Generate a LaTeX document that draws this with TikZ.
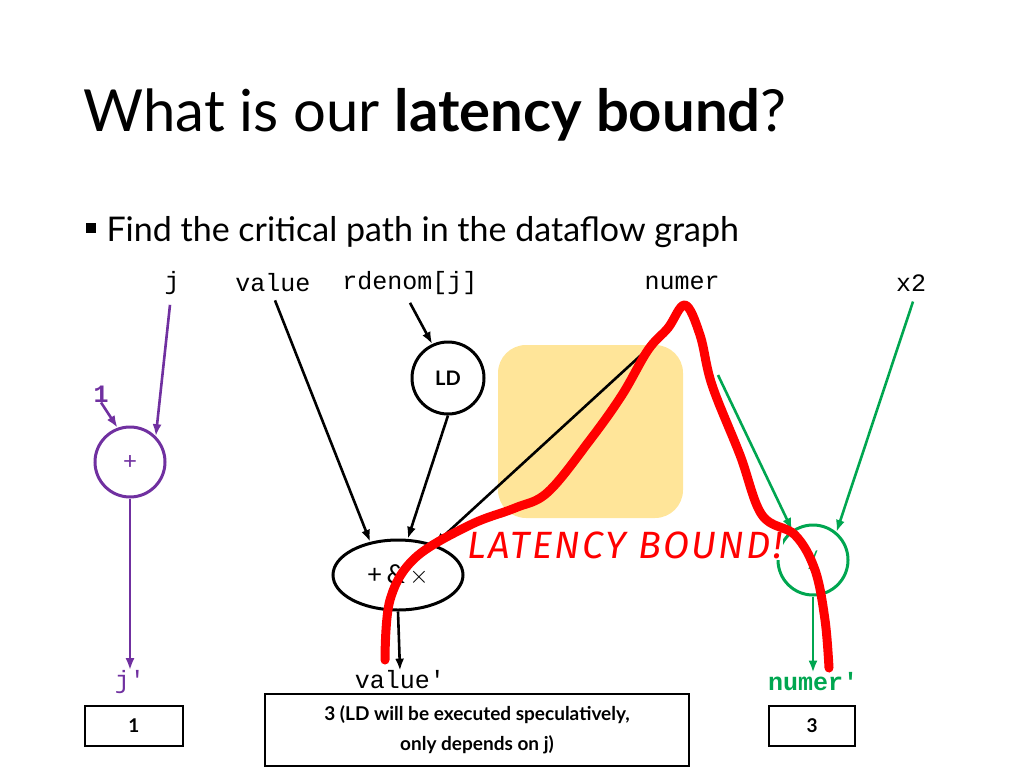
\documentclass[tikz,border=0pt]{standalone}
\usepackage{fontspec}
\setmainfont{Lato}
\setmonofont{Liberation Mono}
\newfontfamily\comic[LetterSpace=6]{Fira Sans}
\usetikzlibrary{arrows.meta,shapes.geometric}
\definecolor{purp}{RGB}{112,48,160}
\definecolor{grn}{RGB}{0,166,80}
\definecolor{yel}{RGB}{255,229,153}
\tikzset{x=1pt,y=-1pt,
 lab/.style={font=\ttfamily\fontsize{25}{28}\selectfont,inner sep=0},
 op/.style={circle,draw,line width=3pt,minimum size=70pt,inner sep=0},
 arr/.style={-{Latex[length=12pt,width=9pt]},line width=2.6pt},
 vbox/.style={draw,line width=1.5pt,font=\bfseries\fontsize{19}{30}\selectfont,align=center}}
\begin{document}
\begin{tikzpicture}
\useasboundingbox (0,0) rectangle (1024,768);
\node[anchor=west,font=\fontsize{58}{64}\selectfont] (t) at (80,115) {What is our \textbf{latency bound}?};
\node[fill=black,minimum size=10pt,inner sep=0] (b) at (91,228) {};
\node[anchor=west,font=\fontsize{34}{40}\selectfont] (f) at (103,232) {Find the critical path in the dataflow graph};
\node[lab] (j) at (172,283) {j};
\node[lab] (val) at (273,283) {value};
\node[lab] (rd) at (410,283) {rdenom[j]};
\node[lab] (num) at (682,283) {numer};
\node[lab] (x2) at (911,283) {x2};
\node[lab,text=purp,font=\ttfamily\bfseries\fontsize{25}{28}\selectfont] (one) at (101,394) {1};
\fill[yel,rounded corners=28pt] (498,345) rectangle (683,518);
\node[op,draw=purp,text=purp,font=\fontsize{24}{28}\selectfont] (p) at (130,462) {+};
\node[op,minimum size=72pt,font=\bfseries\fontsize{20}{24}\selectfont] (ld) at (448,378) {LD};
\node[ellipse,draw,line width=3pt,minimum width=130pt,minimum height=70pt,font=\fontsize{26}{28}\selectfont] (e) at (398,575) {+\,\&\,$\times$};
\node[op,draw=grn,text=grn,font=\fontsize{24}{28}\selectfont] (g) at (813,560) {/};
\node[lab,text=purp] (jp) at (130,682) {j'};
\node[lab] (vp) at (400,680) {value'};
\node[lab,text=grn,font=\ttfamily\bfseries\fontsize{25}{28}\selectfont] (np) at (813,682) {numer'};
\node[vbox,minimum width=98pt,minimum height=40pt] (b1) at (134,726) {1};
\node[vbox,minimum width=424pt,minimum height=72pt] (b2) at (477,730) {3 (LD will be executed speculatively,\\only depends on j)};
\node[vbox,minimum width=86pt,minimum height=40pt] (b3) at (812,726) {3};
\draw[arr,purp] (j.south) ++(-2,10) -- (p.45);
\draw[arr,purp] (one.south) -- (p.110);
\draw[arr,purp] (p.south) -- (jp.north);
\draw[arr] (val.south) ++(2,8) -- (e.130);
\draw[arr] (rd.south) ++(0,8) -- (ld.115);
\draw[arr] (ld.south) -- (e.75);
\draw[arr] (e.south) -- (vp.north);
\draw[arr] (num.south) ++(-30,55) -- (e.40);
\draw[arr,grn] (num.south) ++(36,85) -- (g.125);
\draw[arr,grn] (x2.south) ++(2,10) -- (g.50);
\draw[arr,grn] (g.south) -- (np.north);
\node[text=red,font=\comic\itshape\fontsize{38}{40}\selectfont,fill=white,inner sep=1pt] (lb) at (625,545) {LATENCY BOUND!};
\draw[red,line width=9pt,line cap=round,line join=round] plot[smooth,tension=0.6] coordinates {(385,660) (390,600) (415,558) (470,525) (515,508) (548,492) (590,440) (622,395) (648,350) (668,328) (685,305) (700,335) (712,385) (740,455) (762,515) (795,535) (815,570) (825,620) (829,668)};
\end{tikzpicture}
\end{document}
